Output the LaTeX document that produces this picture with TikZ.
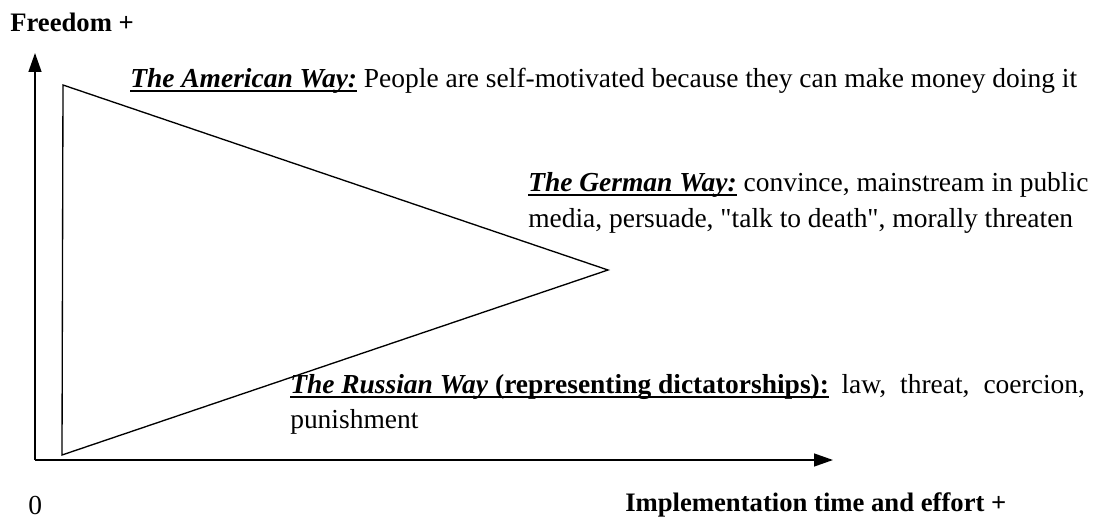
\documentclass[tikz,border=0pt]{standalone}
\usepackage{fontspec}
\setmainfont{Liberation Serif}
\usetikzlibrary{arrows.meta,positioning}
\newcommand{\thickul}[1]{\setbox0\hbox{#1}\rlap{\rule[-3.4pt]{\wd0}{1.6pt}}\box0\relax}
\newcommand{\wayname}[1]{\thickul{\textbf{\textit{#1}}}}
\tikzset{
  axis/.style={
    -{Triangle[length=5mm,width=3.4mm]},
    line width=1.2pt
  },
  side/.style={
    line width=1pt,
    line join=miter
  },
  way/.style={
    anchor=west,
    align=left,
    inner sep=0pt,
    font=\fontsize{20.6}{26.5}\selectfont
  },
  axlabel/.style={
    anchor=west,
    inner sep=0pt,
    font=\bfseries\fontsize{20}{24}\selectfont
  }
}

\begin{document}
\begin{tikzpicture}[x=0.75pt,y=-0.75pt]
\useasboundingbox (0,0) rectangle (1093,521);
% axes
\coordinate (o) at (35,460);
\coordinate (ytip) at (35,53);
\coordinate (xtip) at (833,460);
\draw[axis] (o) -- (ytip);
\draw[axis] (o) -- (xtip);
% triangle
\coordinate (top) at (63,85);
\coordinate (tip) at (608,270);
\coordinate (bot) at (62,455);
\draw[side] (top) -- (tip) -- (bot) -- cycle;
% axis labels
\node[axlabel] (free) at (10,22) {Freedom +};
\node[way] (zero) at (28,505) {0};
\node[axlabel] (impl) at (625,505) {Implementation time and effort +};
% the three ways
\node[way] (american) at (130,81) {\wayname{The American Way:} People are self-motivated because they can make money doing it};
\node[way] (german) at (528,203) {\wayname{The German Way:} convince, mainstream in public\\media, persuade, \textquotedbl talk to death\textquotedbl, morally threaten};
\node[way, anchor=north west, text width=596pt, align=justify] (russian) at (290,374) {\thickul{\textbf{\textit{The Russian Way} (representing dictatorships):}} law, threat, coercion, punishment};
\end{tikzpicture}
\end{document}
